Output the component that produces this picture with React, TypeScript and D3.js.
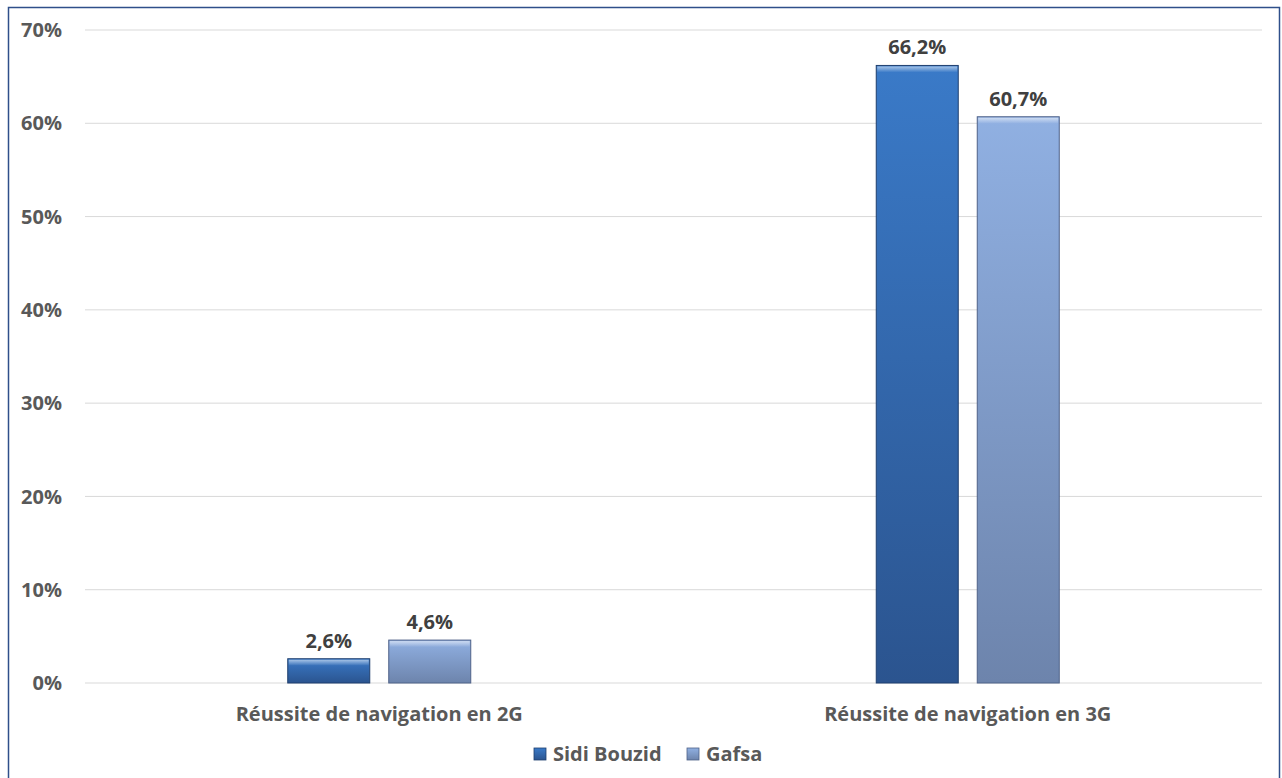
import React from "react";
import * as d3 from "d3";

const categories = ["Réussite de navigation en 2G", "Réussite de navigation en 3G"];
const seriesNames = ["Sidi Bouzid", "Gafsa"];
const sidiBouzid = [2.6, 66.2];
const gafsa = [4.6, 60.7];
const yTicks = [0, 10, 20, 30, 40, 50, 60, 70];

const W = 1282;
const H = 778;
const FONT = "'Open Sans', 'Noto Sans', sans-serif";

export default function App() {
  const x0 = d3.scaleBand<string>().domain(categories).range([85, 1262]);
  const y = d3.scaleLinear().domain([0, 70]).range([683, 30]);
  const barW = 82;
  const gap = 19;
  const series = [
    { name: seriesNames[0], values: sidiBouzid, grad: "gSidi", stroke: "#1f3f6e" },
    { name: seriesNames[1], values: gafsa, grad: "gGafsa", stroke: "#4f6288" },
  ];
  const fmt = (v: number) => v.toFixed(1).replace(".", ",") + "%";

  return (
    <svg width={W} height={H} style={{ position: "absolute", left: 0, top: 0 }}>
      <defs>
        <linearGradient id="gSidi" x1="0" y1="0" x2="0" y2="1">
          <stop offset="0" stopColor="#3a7ac8" />
          <stop offset="1" stopColor="#2b548f" />
        </linearGradient>
        <linearGradient id="gGafsa" x1="0" y1="0" x2="0" y2="1">
          <stop offset="0" stopColor="#90b0e2" />
          <stop offset="1" stopColor="#6d84ac" />
        </linearGradient>
        <linearGradient id="bevel" x1="0" y1="0" x2="0" y2="1">
          <stop offset="0" stopColor="#ffffff" stopOpacity="0.55" />
          <stop offset="1" stopColor="#ffffff" stopOpacity="0" />
        </linearGradient>
      </defs>
      <rect x={0} y={0} width={W} height={H} fill="#ffffff" />
      <rect x={8.5} y={7.5} width={1271} height={H} fill="none" stroke="#2f4f8a" strokeWidth={1.5} />

      {yTicks.map((t) => (
        <g key={t}>
          <line x1={85} x2={1262} y1={y(t)} y2={y(t)} stroke="#d9d9d9" strokeWidth={1} />
          <text x={62} y={y(t)} dy="0.36em" textAnchor="end" fontFamily={FONT} fontWeight={700} fontSize={20} fill="#595959">
            {t}%
          </text>
        </g>
      ))}

      {categories.map((c, ci) => {
        const cx = (x0(c) as number) + x0.bandwidth() / 2;
        return (
          <g key={c}>
            {series.map((s, si) => {
              const bx = cx + (si === 0 ? -gap / 2 - barW : gap / 2);
              const by = y(s.values[ci]);
              const bh = y(0) - by;
              return (
                <g key={s.name}>
                  <rect x={bx} y={by} width={barW} height={bh} fill={`url(#${s.grad})`} stroke={s.stroke} strokeWidth={1} />
                  <rect x={bx + 1} y={by + 1} width={barW - 2} height={Math.min(6, bh - 2)} fill="url(#bevel)" />
                  <text x={bx + barW / 2} y={by - 11} textAnchor="middle" fontFamily={FONT} fontWeight={700} fontSize={20} fill="#404040">
                    {fmt(s.values[ci])}
                  </text>
                </g>
              );
            })}
            <text x={cx} y={721} textAnchor="middle" fontFamily={FONT} fontWeight={700} fontSize={20} fill="#595959">
              {c}
            </text>
          </g>
        );
      })}

      {series.map((s, si) => {
        const lx = si === 0 ? 534 : 687;
        return (
          <g key={s.name}>
            <rect x={lx} y={748} width={12} height={12} fill={`url(#${s.grad})`} stroke={s.stroke} strokeWidth={0.8} />
            <text x={lx + 19} y={761} fontFamily={FONT} fontWeight={700} fontSize={20} fill="#595959">
              {s.name}
            </text>
          </g>
        );
      })}
    </svg>
  );
}
